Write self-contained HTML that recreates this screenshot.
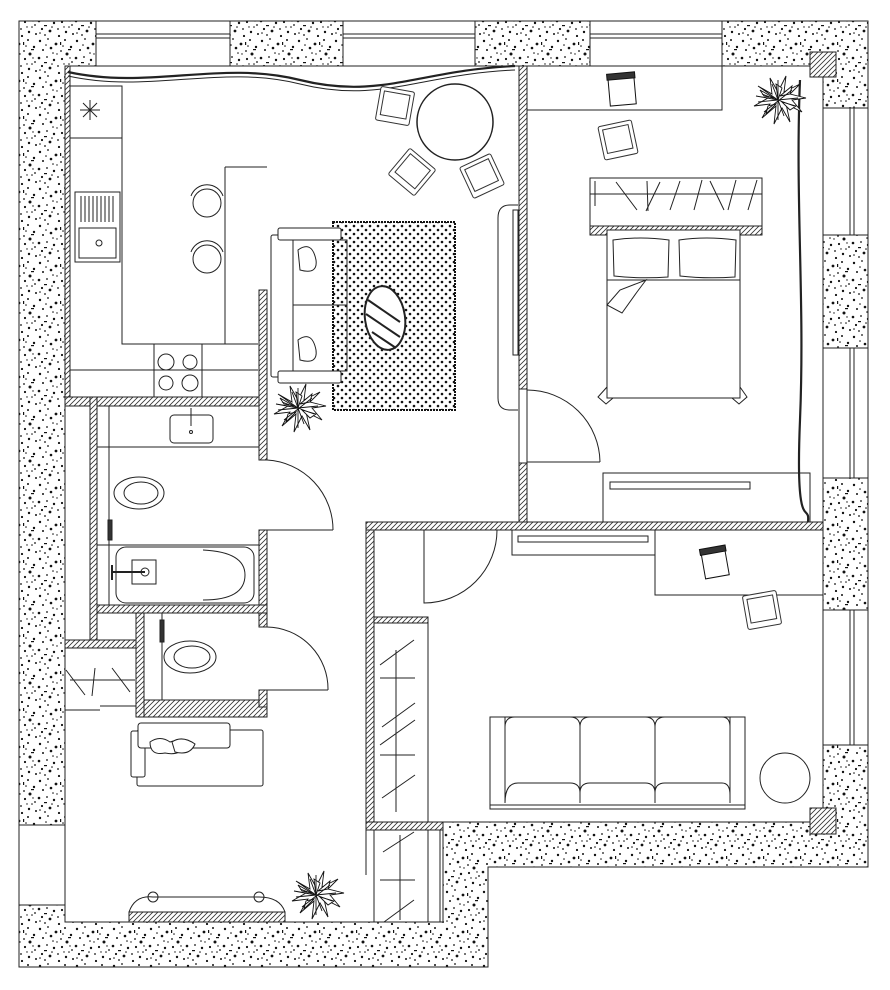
<!DOCTYPE html>
<html><head><meta charset="utf-8"><style>html,body{margin:0;padding:0;background:#fff}svg{display:block}</style></head>
<body>
<svg width="890" height="990" viewBox="0 0 890 990" xmlns="http://www.w3.org/2000/svg" fill="none" stroke="#222" stroke-width="1">
<defs>
<pattern id="sp" width="37" height="37" patternUnits="userSpaceOnUse">
<rect width="37" height="37" fill="#fff" stroke="none"/>
<g fill="#111" stroke="none">
<circle cx="3" cy="4" r="1.2"/><circle cx="11" cy="2" r="0.9"/><circle cx="19" cy="7" r="1.4"/><circle cx="28" cy="3" r="1"/><circle cx="34" cy="10" r="1.2"/>
<circle cx="6" cy="13" r="1"/><circle cx="14" cy="11" r="1.3"/><circle cx="24" cy="14" r="0.9"/><circle cx="30" cy="17" r="1.5"/><circle cx="2" cy="21" r="1.3"/>
<circle cx="10" cy="20" r="0.9"/><circle cx="17" cy="23" r="1.2"/><circle cx="25" cy="22" r="1.1"/><circle cx="35" cy="25" r="0.9"/><circle cx="5" cy="29" r="1.1"/>
<circle cx="13" cy="31" r="1.4"/><circle cx="21" cy="29" r="0.9"/><circle cx="29" cy="32" r="1.2"/><circle cx="36" cy="34" r="1"/><circle cx="8" cy="35" r="0.9"/>
<circle cx="22" cy="36" r="1.1"/><circle cx="32" cy="27" r="0.8"/><circle cx="16" cy="16" r="0.8"/><circle cx="9" cy="8" r="0.8"/>
<circle cx="26" cy="9" r="0.8"/><circle cx="20" cy="17" r="0.7"/><circle cx="3" cy="33" r="0.8"/><circle cx="33" cy="21" r="0.7"/><circle cx="15" cy="27" r="0.8"/><circle cx="27" cy="27" r="0.7"/>
<rect x="7" y="25" width="3" height="1.2"/><rect x="23" y="5" width="1.2" height="3"/><rect x="31" y="12" width="3" height="1.2"/>
</g></pattern>
<pattern id="ht" width="5" height="5" patternUnits="userSpaceOnUse">
<rect width="5" height="5" fill="#fff" stroke="none"/><path d="M0 5L5 0M-1 1L1 -1M4 6L6 4" stroke="#333" stroke-width="0.8"/></pattern>
<pattern id="dt" width="8" height="8" patternUnits="userSpaceOnUse">
<rect width="8" height="8" fill="#fff" stroke="none"/><circle cx="2" cy="2" r="1.3" fill="#111" stroke="none"/><circle cx="6" cy="6" r="1.3" fill="#111" stroke="none"/></pattern>
<g id="plant" stroke="#111" stroke-width="0.9" fill="#fff">
<path d="M0 0L-22 -4L-10 -2L-24 6L-8 4L-16 18L-2 6L-4 24L4 8L12 22L8 4L24 12L14 0L28 -2L12 -6L22 -16L6 -8L8 -24L0 -8L-8 -22L-6 -6L-20 -14Z"/>
<path d="M-4 -2L-18 -10L-14 -4ZM4 2L18 6L12 10ZM-2 4L-12 14L-10 6ZM2 -4L14 -14L12 -6ZM0 0L-2 -16L4 -12Z"/>
<path d="M-16 -6L16 6M-6 -16L6 16M-14 12L14 -10M0 -20L0 20M-20 2L20 -2"/>
</g>
<g id="chair" stroke="#333" fill="#fff"><rect x="-17" y="-17" width="34" height="34" rx="2"/><rect x="-13" y="-13" width="26" height="24"/></g>
</defs>

<path d="M19 21H868V867H488V967H19Z" fill="url(#sp)" stroke="#222"/>
<path d="M65 66H823V822H443V922H65Z" fill="#fff" stroke="#222"/>

<g fill="#fff"><rect x="96" y="21" width="134" height="45"/><rect x="343" y="21" width="132" height="45"/><rect x="590" y="21" width="132" height="45"/></g>
<path d="M96 34H230M96 38H230M343 34H475M343 38H475M590 34H722M590 38H722"/>
<g fill="#fff"><rect x="823" y="108" width="45" height="127"/><rect x="823" y="348" width="45" height="130"/><rect x="823" y="610" width="45" height="135"/></g>
<path d="M850 108V235M854 108V235M850 348V478M854 348V478M850 610V745M854 610V745"/>
<rect x="19" y="825" width="46" height="80" fill="#fff"/>
<rect x="810" y="52" width="26" height="25" fill="url(#ht)"/><rect x="810" y="808" width="26" height="26" fill="url(#ht)"/>

<g fill="url(#ht)" stroke="#222">
<rect x="65" y="66" width="5" height="340"/>
<rect x="65" y="397" width="202" height="9"/>
<rect x="259" y="290" width="8" height="170"/>
<rect x="90" y="397" width="7" height="243"/>
<rect x="259" y="530" width="8" height="97"/>
<rect x="97" y="605" width="170" height="8"/>
<rect x="136" y="613" width="8" height="104"/>
<rect x="144" y="700" width="123" height="17"/>
<rect x="259" y="690" width="8" height="17"/>
<rect x="65" y="640" width="71" height="8"/>
<rect x="519" y="66" width="8" height="323"/>
<rect x="519" y="463" width="8" height="59"/>
<rect x="366" y="522" width="457" height="8"/>
<rect x="366" y="530" width="8" height="300"/>
<rect x="366" y="822" width="77" height="8"/>
<rect x="374" y="617" width="54" height="6"/>
<rect x="590" y="226" width="172" height="9"/>
<rect x="129" y="912" width="156" height="10"/>
</g>
<path d="M519 389V463M527 389V463"/>

<path d="M68 72C150 90 220 60 300 80S420 70 515 66" stroke-width="2.2"/><path d="M68 76C150 94 220 64 300 84S420 74 515 70"/>
<path d="M800 80C795 200 805 300 800 420S810 500 808 522" stroke-width="2.2"/>

<path d="M70 86H122V344H258M122 138H70M70 370H258M225 167H267M225 167V344"/>
<path d="M80 110L100 110M90 100V120M83 103L97 117M97 103L83 117"/>
<rect x="75" y="192" width="45" height="70"/><rect x="79" y="228" width="37" height="30"/><path d="M81 196V222M85 196V222M89 196V222M93 196V222M97 196V222M101 196V222M105 196V222M109 196V222M113 196V222"/><circle cx="99" cy="243" r="3"/>
<rect x="154" y="344" width="48" height="53"/><circle cx="166" cy="362" r="8"/><circle cx="190" cy="362" r="7"/><circle cx="166" cy="383" r="7"/><circle cx="190" cy="383" r="8"/>
<circle cx="207" cy="203" r="14"/><path d="M191 196A17 17 0 0 1 223 196"/><circle cx="207" cy="259" r="14"/><path d="M191 252A17 17 0 0 1 223 252"/>

<circle cx="455" cy="122" r="38" stroke-width="1.5"/>
<use href="#chair" transform="translate(395,106) rotate(10)"/>
<use href="#chair" transform="translate(412,172) rotate(40)"/>
<use href="#chair" transform="translate(482,176) rotate(-25)"/>

<rect x="333" y="222" width="122" height="188" fill="url(#dt)" stroke="#111" stroke-dasharray="2 1" stroke-width="2"/>
<ellipse cx="385" cy="318" rx="20" ry="32" transform="rotate(-8 385 318)" fill="#fff" stroke-width="2"/>
<path d="M368 300L400 322M366 314L400 337M372 332L396 348" stroke-width="2"/>
<rect x="271" y="235" width="22" height="142" rx="2" fill="#fff"/><rect x="278" y="228" width="63" height="12" rx="2" fill="#fff"/><rect x="278" y="371" width="63" height="12" rx="2" fill="#fff"/>
<path d="M293 240H347V371H293M293 305H347"/>
<path d="M298 250Q312 240 316 260Q318 275 300 270Z" fill="#fff"/><path d="M298 340Q312 330 316 350Q318 365 300 360Z" fill="#fff"/>
<use href="#plant" transform="translate(298,408)"/>
<path d="M518 205H510Q498 205 498 218V398Q498 410 510 410H518"/><rect x="513" y="210" width="5" height="145"/>

<path d="M527 110H722V66"/>
<g transform="translate(622,90) rotate(-5)" stroke="#111"><rect x="-13" y="-13" width="26" height="28" fill="#fff"/><rect x="-14" y="-17" width="28" height="6" fill="#333"/></g>
<use href="#chair" transform="translate(618,140) rotate(-12)"/>
<use href="#plant" transform="translate(778,100)"/>
<rect x="590" y="178" width="172" height="48" fill="#fff"/><path d="M590 194H762M595 181V206M616 182L637 210M647 181L648 211"/><path d="M660 182L646 211M680 181L670 210M702 180L694 210M710 181L724 210M736 180L728 210M757 180L748 210"/>
<rect x="607" y="230" width="133" height="168" fill="#fff"/><path d="M607 280H740"/>
<path d="M613 240Q640 236 669 240L668 277Q640 279 614 276Z" fill="#fff"/><path d="M679 240Q706 236 736 240L735 277Q706 279 680 276Z" fill="#fff"/>
<path d="M646 280L620 290L607 305L622 313L637 292Z" fill="#fff"/>
<path d="M607 387L598 397L606 404L613 398H732L739 404L747 397L740 387"/>
<path d="M527 390A73 73 0 0 1 600 462"/><path d="M527 462H600"/>
<rect x="603" y="473" width="207" height="49"/><rect x="610" y="482" width="140" height="7"/>

<path d="M424 530V603A73 73 0 0 0 497 530"/>
<rect x="512" y="530" width="143" height="25"/><rect x="518" y="536" width="130" height="6"/>
<path d="M655 530V595H823"/>
<g transform="translate(715,563) rotate(-10)" stroke="#111"><rect x="-12" y="-12" width="24" height="26" fill="#fff"/><rect x="-13" y="-16" width="26" height="6" fill="#333"/></g>
<use href="#chair" transform="translate(762,610) rotate(-10)"/>
<rect x="374" y="623" width="54" height="199"/>
<path d="M380 665L414 640M380 678H415M382 727L415 703M380 745L415 720M380 755H415M382 798L415 775M396 650V812"/>
<rect x="490" y="717" width="255" height="92"/><path d="M490 805H745M505 717V803M730 717V803"/>
<path d="M505 803V727Q505 717 515 717H570Q580 717 580 727V803M580 727Q580 717 590 717H645Q655 717 655 727V803M655 727Q655 717 665 717H722Q730 717 730 727V803"/>
<path d="M505 803Q505 783 518 783H570Q580 783 580 793M580 793Q580 783 590 783H645Q655 783 655 793M655 793Q655 783 665 783H722Q730 783 730 795"/>
<circle cx="785" cy="778" r="25"/>
<path d="M374 830V922M428 830V922M440 830V922M383 852L414 832M380 880H415M384 922L414 900M400 835V920M366 830V875"/>

<path d="M97 406V605M97 447H259M109 406V605M97 545H259"/>
<rect x="170" y="415" width="43" height="28" rx="4"/><path d="M191 408V426"/><circle cx="191" cy="432" r="1.5"/>
<ellipse cx="139" cy="493" rx="25" ry="16"/><ellipse cx="141" cy="493" rx="17" ry="11"/><rect x="108" y="520" width="4" height="20" fill="#333"/>
<rect x="116" y="547" width="138" height="56" rx="10"/><path d="M203 550Q245 552 245 575Q245 600 203 600"/><rect x="132" y="560" width="24" height="24"/><circle cx="145" cy="572" r="4"/><path d="M112 572H145M112 565V580" stroke-width="2"/>
<path d="M267 460A70 70 0 0 1 333 530"/><path d="M267 530H333"/>
<path d="M162 613V700"/>
<ellipse cx="190" cy="657" rx="26" ry="16"/><ellipse cx="192" cy="657" rx="18" ry="11"/><rect x="160" y="620" width="4" height="22" fill="#333"/>
<path d="M267 627A62 62 0 0 1 328 690"/><path d="M267 690H328"/>
<path d="M65 648H136V710M65 710H100M100 706H136M66 670L85 695M95 668L92 696M112 668L130 692M70 680H135"/>
<rect x="137" y="730" width="126" height="56" rx="2"/><rect x="131" y="731" width="14" height="46" rx="2" fill="#fff"/><rect x="138" y="723" width="92" height="25" rx="3" fill="#fff"/>
<path d="M150 742Q160 735 170 742Q180 738 185 746Q180 756 165 753Q150 756 150 742Z" fill="#fff"/><path d="M172 742Q182 735 195 744Q190 756 175 752Z" fill="#fff"/>
<path d="M129 912Q135 895 153 897H259Q280 897 285 912"/><circle cx="153" cy="897" r="5"/><circle cx="259" cy="897" r="5"/>
<use href="#plant" transform="translate(316,895)"/>
</svg>
</body></html>
